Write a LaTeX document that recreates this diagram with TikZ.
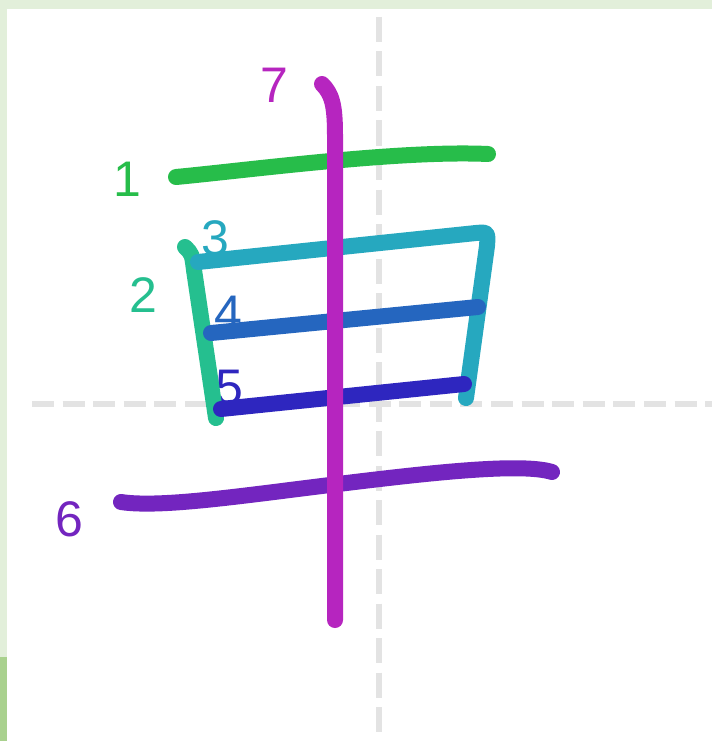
\documentclass[tikz,border=0pt]{standalone}
\usepackage{fontspec}
\setmainfont{Liberation Sans}
\usepackage{xcolor}

\definecolor{paleband}{HTML}{E2EFDA}
\definecolor{darkband}{HTML}{A9D18E}
\definecolor{guidegrey}{HTML}{E3E3E3}
\definecolor{strokeone}{HTML}{27BD4A}
\definecolor{striketwo}{HTML}{25BF8F}
\definecolor{strokethree}{HTML}{26A8BF}
\definecolor{strokefour}{HTML}{2566BF}
\definecolor{strokefive}{HTML}{2E26BF}
\definecolor{strokesix}{HTML}{7325BF}
\definecolor{strokeseven}{HTML}{B625BF}

\begin{document}
\begin{tikzpicture}[x=1pt,y=-1pt,
    brush/.style={line width=16pt,line cap=round,line join=round},
    num/.style={inner sep=0pt,font=\fontsize{50}{50}\selectfont},
    guide/.style={line width=6pt,guidegrey}]
  \useasboundingbox (0,0) rectangle (712,741);
  % frame of the card
  \fill[white] (0,0) rectangle (712,741);
  \fill[paleband] (0,0) rectangle (712,9);
  \fill[paleband] (0,0) rectangle (7,657);
  \fill[darkband] (0,657) rectangle (7,741);

  % guide lines
  \draw[guide,dash pattern=on 25pt off 9.5pt] (379,17) -- (379,741);
  \draw[guide,dash pattern=on 22pt off 8.6pt] (32,404) -- (712,404);

  % stroke numbers
  \node (n1) [num,text=strokeone] at (127,179) {1};
  \node (n2) [num,text=striketwo] at (143,295) {2};
  \node (n3) [num,text=strokethree] at (215,238) {3};
  \node (n4) [num,text=strokefour] at (228,313) {4};
  \node (n5) [num,text=strokefive] at (229,388) {5};
  \node (n6) [num,text=strokesix] at (69,519) {6};
  \node (n7) [num,text=strokeseven] at (274,85) {7};

  % strokes, in writing order
  \draw[brush,strokeone] (176,177) .. controls (250,170) and (400,150) .. (488,154);
  \draw[brush,striketwo] (185,247) .. controls (192,254) .. (194,270) -- (216,418);
  \draw[brush,strokethree] (198,262) -- (476,233) .. controls (488,232) .. (487,246) -- (466,398);
  \draw[brush,strokefour] (211,333) -- (478,307);
  \draw[brush,strokefive] (221,409) -- (464,384);
  \draw[brush,strokesix] (121,502) .. controls (160,508) and (240,496) .. (330,485)
    .. controls (420,474) and (520,462) .. (552,472);
  \draw[brush,strokeseven] (322,84) .. controls (332,94) and (335,105) .. (335,135) -- (335,620);
\end{tikzpicture}
\end{document}
